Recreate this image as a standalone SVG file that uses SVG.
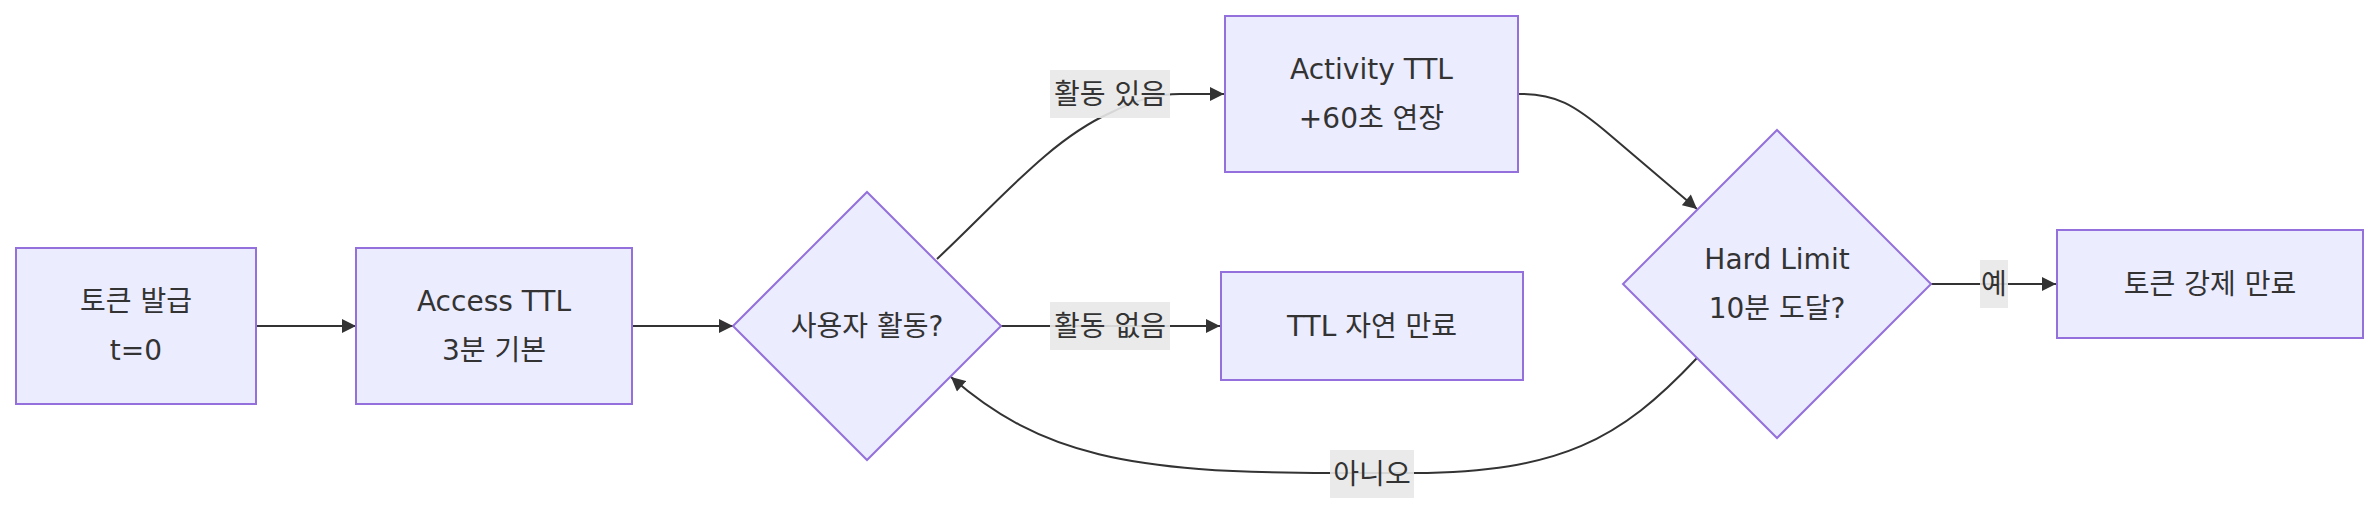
<svg xmlns="http://www.w3.org/2000/svg" width="2379" height="514" viewBox="0 0 2379 514">
<style>
.node rect, .node polygon { fill: #ECECFF; stroke: #9370DB; stroke-width: 2; }
.node text, .lbl text { font-family: "DejaVu Sans", "Noto Sans CJK KR", sans-serif; font-size: 28px; fill: #333333; text-anchor: middle; }
.edge { fill: none; stroke: #333333; stroke-width: 2; }
.lbl rect { fill: #e8e8e8; fill-opacity: 0.9; }
</style>
<defs>
<marker id="arrow" viewBox="0 0 10 10" refX="10" refY="5" markerUnits="userSpaceOnUse" markerWidth="15" markerHeight="14" orient="auto">
<path d="M0,0 L10,5 L0,10 z" fill="#333333"/>
</marker>
</defs>
<g id="connectors">
<path class="edge" d="M256,326 L356,326" marker-end="url(#arrow)"/>
<path class="edge" d="M632,326 L733,326" marker-end="url(#arrow)"/>
<path class="edge" d="M937,259 C1000,200 1050,140 1110,113 C1140,98 1160,94 1180,94 L1224,94" marker-end="url(#arrow)"/>
<path class="edge" d="M1001,326 L1220,326" marker-end="url(#arrow)"/>
<path class="edge" d="M1518,94 C1555,93 1575,105 1610,135 L1697,209" marker-end="url(#arrow)"/>
<path class="edge" d="M1931,284 L2056,284" marker-end="url(#arrow)"/>
<path class="edge" d="M1697,358 C1620,440 1560,472 1414,473 L1330,473 C1130,473 1040,455 951,377" marker-end="url(#arrow)"/>
<g class="lbl"><rect x="1050" y="70" width="120" height="48"/><text x="1110" y="104">활동 있음</text></g>
<g class="lbl"><rect x="1050" y="302" width="120" height="48"/><text x="1110" y="336">활동 없음</text></g>
<g class="lbl"><rect x="1330" y="450" width="84" height="48"/><text x="1372" y="484">아니오</text></g>
<g class="lbl"><rect x="1980" y="260" width="28" height="48"/><text x="1994" y="294">예</text></g>
</g>
<g id="n-issue" class="node"><rect x="16" y="248" width="240" height="156"/><text x="136" y="311">토큰 발급</text><text x="136" y="360">t=0</text></g>
<g id="n-access" class="node"><rect x="356" y="248" width="276" height="156"/><text x="494" y="311">Access TTL</text><text x="494" y="360">3분 기본</text></g>
<g id="n-activity-q" class="node"><polygon points="867,192 1001,326 867,460 733,326"/><text x="867" y="336">사용자 활동?</text></g>
<g id="n-activity" class="node"><rect x="1225" y="16" width="293" height="156"/><text x="1371.5" y="79">Activity TTL</text><text x="1371.5" y="128">+60초 연장</text></g>
<g id="n-natural" class="node"><rect x="1221" y="272" width="302" height="108"/><text x="1372" y="336">TTL 자연 만료</text></g>
<g id="n-hard" class="node"><polygon points="1777,130 1931,284 1777,438 1623,284"/><text x="1777" y="269">Hard Limit</text><text x="1777" y="318">10분 도달?</text></g>
<g id="n-force" class="node"><rect x="2057" y="230" width="306" height="108"/><text x="2210" y="294">토큰 강제 만료</text></g>
</svg>
